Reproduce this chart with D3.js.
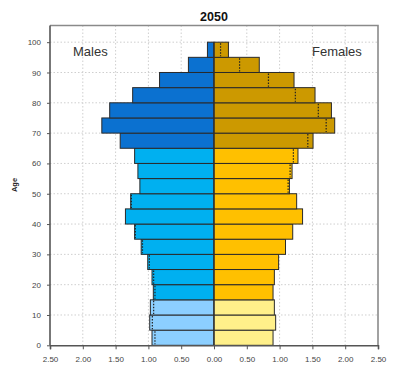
<!DOCTYPE html>
<html><head><meta charset="utf-8">
<script src="https://cdn.jsdelivr.net/npm/d3@7"></script>
<style>body{margin:0;background:#fff;}svg{display:block;font-family:Arial,"Liberation Sans",sans-serif;}</style>
</head><body><svg id="c" width="400" height="383"></svg>
<script>
const title = "2050";
const ageStarts = [0,5,10,15,20,25,30,35,40,45,50,55,60,65,70,75,80,85,90,95];
const males =   [0.945,0.98,0.97,0.925,0.945,1.01,1.11,1.21,1.35,1.27,1.13,1.16,1.21,1.43,1.71,1.59,1.24,0.83,0.39,0.10];
const females = [0.90,0.94,0.92,0.90,0.92,0.985,1.09,1.20,1.35,1.26,1.15,1.19,1.28,1.51,1.84,1.79,1.54,1.22,0.69,0.22];
const xTicks = [-2.5,-2,-1.5,-1,-0.5,0,0.5,1,1.5,2,2.5];
const yTicks = [0,10,20,30,40,50,60,70,80,90,100];
const maleColors = ["#8ccfff","#00b0f0","#0b71d0"];
const femaleColors = ["#fff08a","#ffc000","#cc9900"];

const svg = d3.select("#c");
const L=50, R=378, T=25.5, B=345.3;
const x = d3.scaleLinear().domain([-2.5,2.5]).range([L,R]);
const y = d3.scaleLinear().domain([0,105.5]).range([B,T]);
const grp = a => a < 15 ? 0 : (a < 65 ? 1 : 2);

// grid
const g = svg.append("g");
g.selectAll("line.vg").data(xTicks.filter(d=>Math.abs(d)<2.5 && d!==0)).join("line")
  .attr("x1",d=>x(d)).attr("x2",d=>x(d)).attr("y1",T).attr("y2",B)
  .attr("stroke","#cfcfcf").attr("stroke-dasharray","1.5,2");
g.selectAll("line.hg").data(yTicks.filter(d=>d>0)).join("line")
  .attr("x1",L).attr("x2",R).attr("y1",d=>y(d)).attr("y2",d=>y(d))
  .attr("stroke","#cfcfcf").attr("stroke-dasharray","1.5,2");

const data = ageStarts.map((a,i)=>({a, m:males[i], f:females[i]}));
const bh = y(0)-y(5);
// male bars
svg.append("g").selectAll("rect").data(data).join("rect")
  .attr("x",d=>x(-d.m)).attr("width",d=>x(0)-x(-d.m))
  .attr("y",d=>y(d.a+5)).attr("height",bh)
  .attr("fill",d=>maleColors[grp(d.a)]).attr("stroke","#2a2a2a").attr("stroke-width",1);
// female bars
svg.append("g").selectAll("rect").data(data).join("rect")
  .attr("x",x(0)).attr("width",d=>x(d.f)-x(0))
  .attr("y",d=>y(d.a+5)).attr("height",bh)
  .attr("fill",d=>femaleColors[grp(d.a)]).attr("stroke","#2a2a2a").attr("stroke-width",1);
// dotted comparison lines (opposite sex mirrored, visible inside bars)
svg.append("g").selectAll("line").data(data.filter(d=>d.f<d.m)).join("line")
  .attr("x1",d=>x(-d.f)).attr("x2",d=>x(-d.f)).attr("y1",d=>y(d.a+5)+1).attr("y2",d=>y(d.a)-1)
  .attr("stroke","#222").attr("stroke-width",1.2).attr("stroke-dasharray","1.5,1.5");
svg.append("g").selectAll("line").data(data.filter(d=>d.m<d.f)).join("line")
  .attr("x1",d=>x(d.m)).attr("x2",d=>x(d.m)).attr("y1",d=>y(d.a+5)+1).attr("y2",d=>y(d.a)-1)
  .attr("stroke","#222").attr("stroke-width",1.2).attr("stroke-dasharray","1.5,1.5");
// center line
svg.append("line").attr("x1",x(0)).attr("x2",x(0)).attr("y1",y(100)).attr("y2",B)
  .attr("stroke","#333").attr("stroke-width",1.2);

// frame top/right
svg.append("path").attr("d",`M${L},${T}H${R}V${B}`).attr("fill","none").attr("stroke","#8a8a8a").attr("stroke-width",1.6);

// axes
const xa = svg.append("g").attr("transform",`translate(0,${B})`)
  .call(d3.axisBottom(x).tickValues(xTicks).tickFormat(d=>Math.abs(d).toFixed(2)).tickSize(4).tickPadding(7));
xa.select(".domain").attr("stroke","#555").attr("stroke-width",1.6);
xa.selectAll(".tick line").attr("stroke","#555");
xa.selectAll("text").attr("font-size",8).attr("fill","#444");
const ya = svg.append("g").attr("transform",`translate(${L},0)`)
  .call(d3.axisLeft(y).tickValues(yTicks).tickSize(3).tickPadding(6));
ya.select(".domain").attr("stroke","#555").attr("stroke-width",1.6).attr("d",`M0,${T}V${B}`);
ya.selectAll(".tick line").attr("stroke","#555");
ya.selectAll("text").attr("font-size",8).attr("fill","#444");

// texts
svg.append("text").attr("x",214).attr("y",21).attr("text-anchor","middle")
  .attr("font-size",12.5).attr("font-weight","bold").attr("fill","#111").text(title);
svg.append("text").attr("transform","translate(17,185) rotate(-90)").attr("text-anchor","middle")
  .attr("font-size",7.5).attr("font-weight","bold").attr("fill","#222").text("Age");
svg.append("text").attr("x",73).attr("y",55.5).attr("font-size",13).attr("fill","#333").text("Males");
svg.append("text").attr("x",312).attr("y",55.5).attr("font-size",13).attr("fill","#333").text("Females");
</script></body></html>
